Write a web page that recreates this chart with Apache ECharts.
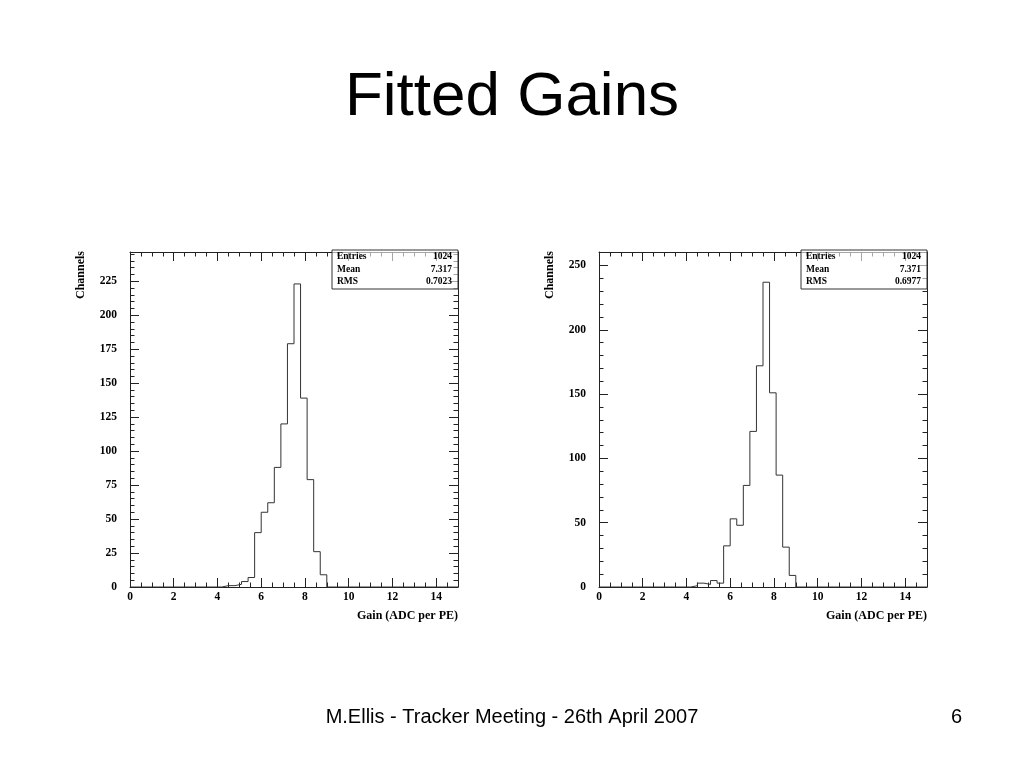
<!DOCTYPE html>
<html><head><meta charset="utf-8">
<script src="https://cdn.jsdelivr.net/npm/echarts@6/dist/echarts.min.js"></script>
<style>html,body{margin:0;padding:0;background:#fff}#c{width:1024px;height:768px}</style>
</head><body><div id="c"></div><script>
// ---- data ----
const binStarts   = [4.2, 4.5, 4.8, 5.1, 5.4, 5.7, 6.0, 6.3, 6.6, 6.9, 7.2, 7.5, 7.8, 8.1, 8.4, 8.7];
const binWidth    = 0.3;
const leftCounts  = [1, 1, 2, 4, 7, 40, 55, 62, 88, 120, 179, 223, 139, 79, 26, 9];
const rightCounts = [1, 3, 2, 5, 3, 32, 53, 48, 79, 121, 172, 237, 151, 87, 31, 9];
const xRange      = [0, 15];
const leftYMax    = 246.5;
const rightYMax   = 260.5;
const statNames   = ['Entries', 'Mean', 'RMS'];
const leftStats   = ['1024', '7.317', '0.7023'];
const rightStats  = ['1024', '7.371', '0.6977'];
const titleText   = 'Fitted Gains';
const xTitle      = 'Gain (ADC per PE)';
const yTitle      = 'Channels';
const footerText  = 'M.Ellis - Tracker Meeting - 26th April 2007';
const pageNumber  = '6';

// ---- layout ----
const grids = [
  {left: 130, top: 252, width: 328, height: 335},
  {left: 599, top: 252, width: 328, height: 335}
];
const serif = '"Liberation Serif","Times New Roman",serif';
const sans = '"Liberation Sans",Arial,sans-serif';
const frameColor = '#222';

function stepData(counts) {
  const pts = [[xRange[0], 0]];
  for (let i = 0; i < counts.length; i++) pts.push([binStarts[i], counts[i]]);
  pts.push([binStarts[binStarts.length - 1] + binWidth, 0]);
  pts.push([xRange[1], 0]);
  return pts;
}

function xAxes(gi) {
  const base = {
    type: 'value', gridIndex: gi, min: xRange[0], max: xRange[1], interval: 2,
    axisLine: {show: true, onZero: false, lineStyle: {color: frameColor, width: 1}},
    axisTick: {show: true, inside: true, length: 9, lineStyle: {color: frameColor}},
    minorTick: {show: true, splitNumber: 4, length: 4.5, lineStyle: {color: frameColor}},
    splitLine: {show: false}, minorSplitLine: {show: false}
  };
  return [
    Object.assign({}, base, {position: 'bottom',
      axisLabel: {show: true, margin: 4, showMaxLabel: false, color: '#000',
        fontFamily: serif, fontWeight: 'bold', fontSize: 11.5}}),
    Object.assign({}, base, {position: 'top', axisLabel: {show: false}})
  ];
}
function yAxes(gi, ymax, interval) {
  const base = {
    type: 'value', gridIndex: gi, min: 0, max: ymax, interval: interval,
    axisLine: {show: true, onZero: false, lineStyle: {color: frameColor, width: 1}},
    axisTick: {show: true, inside: true, length: 9, lineStyle: {color: frameColor}},
    minorTick: {show: true, splitNumber: 5, length: 4.5, lineStyle: {color: frameColor}},
    splitLine: {show: false}, minorSplitLine: {show: false}
  };
  return [
    Object.assign({}, base, {position: 'left',
      axisLabel: {show: true, margin: 13, showMaxLabel: false, color: '#000',
        fontFamily: serif, fontWeight: 'bold', fontSize: 11.5,
        formatter: v => (v % interval === 0 ? String(v) : '')}}),
    Object.assign({}, base, {position: 'right', axisLabel: {show: false}})
  ];
}

function statsBox(g, stats) {
  const x0 = g.left + 202, x1 = g.left + g.width;
  const y0 = 250, y1 = 289;
  const els = [
    {type: 'rect', shape: {x: x0, y: y0, width: x1 - x0, height: y1 - y0},
      style: {fill: 'rgba(255,255,255,0.6)', stroke: '#333', lineWidth: 1}, z: 2}
  ];
  const rows = [256.5, 269.5, 282];
  for (let i = 0; i < statNames.length; i++) {
    els.push({type: 'text', x: x0 + 5, y: rows[i], z: 3,
      style: {text: statNames[i], fill: '#000', font: 'bold 9.5px ' + serif,
        align: 'left', verticalAlign: 'middle'}});
    els.push({type: 'text', x: x1 - 6, y: rows[i], z: 3,
      style: {text: stats[i], fill: '#000', font: 'bold 9.5px ' + serif,
        align: 'right', verticalAlign: 'middle'}});
  }
  return els;
}

function axisTitles(g) {
  return [
    {type: 'text', x: g.left - 49, y: g.top - 1, rotation: Math.PI / 2,
      style: {text: yTitle, fill: '#000', font: 'bold 12px ' + serif,
        align: 'right', verticalAlign: 'middle'}},
    {type: 'text', x: g.left + g.width, y: 616,
      style: {text: xTitle, fill: '#000', font: 'bold 12px ' + serif,
        align: 'right', verticalAlign: 'middle'}}
  ];
}

const chart = echarts.init(document.getElementById('c'), null, {renderer: 'canvas'});
const option = {
  backgroundColor: '#fff',
  animation: false,
  grid: grids.map(g => Object.assign({containLabel: false}, g)),
  xAxis: [...xAxes(0), ...xAxes(1)],
  yAxis: [...yAxes(0, leftYMax, 25), ...yAxes(1, rightYMax, 50)],
  series: [
    {type: 'line', xAxisIndex: 0, yAxisIndex: 0, step: 'end', data: stepData(leftCounts),
      showSymbol: false, symbol: 'none', lineStyle: {color: '#333', width: 1}, z: 5},
    {type: 'line', xAxisIndex: 2, yAxisIndex: 2, step: 'end', data: stepData(rightCounts),
      showSymbol: false, symbol: 'none', lineStyle: {color: '#333', width: 1}, z: 5}
  ],
  graphic: [
    {type: 'text', x: 512, y: 98,
      style: {text: titleText, fill: '#000', font: '62px ' + sans, align: 'center', verticalAlign: 'middle'}},
    {type: 'text', x: 512, y: 717,
      style: {text: footerText, fill: '#000', font: '20px ' + sans, align: 'center', verticalAlign: 'middle'}},
    {type: 'text', x: 962, y: 717,
      style: {text: pageNumber, fill: '#000', font: '20px ' + sans, align: 'right', verticalAlign: 'middle'}},
    ...statsBox(grids[0], leftStats),
    ...statsBox(grids[1], rightStats),
    ...axisTitles(grids[0]),
    ...axisTitles(grids[1])
  ]
};
chart.setOption(option);
</script></body></html>
